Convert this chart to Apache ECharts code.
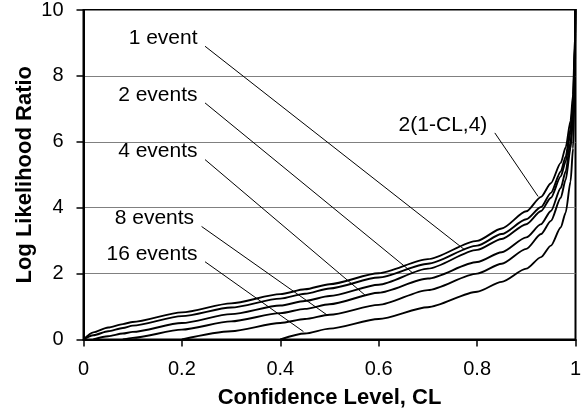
<!DOCTYPE html>
<html>
<head>
<meta charset="utf-8">
<script src="https://cdn.jsdelivr.net/npm/echarts@6/dist/echarts.min.js"></script>
<style>html,body{margin:0;padding:0;background:#fff}#c{width:586px;height:411px}</style>
</head>
<body>
<div id="c"></div>
<script>
// Confidence level grid (x)
const cl = [0, 0.02, 0.05, 0.08, 0.1, 0.2, 0.3, 0.4, 0.45, 0.5, 0.6, 0.7, 0.8, 0.85, 0.9, 0.93, 0.95, 0.97, 0.98, 0.99, 0.995, 0.999, 0.9995, 0.9999];
// Log likelihood ratio values per curve
const chi2Curve = [0, 0.215, 0.363, 0.468, 0.532, 0.824, 1.097, 1.376, 1.524, 1.678, 2.011, 2.439, 2.994, 3.37, 3.89, 4.33, 4.744, 5.36, 5.83, 6.64, 7.43, 9.23, 10.0, 11.8];
const ev1  = [0, 0.13, 0.25, 0.35, 0.42, 0.71, 0.97, 1.24, 1.39, 1.55, 1.88, 2.30, 2.85, 3.2, 3.65, 4.02, 4.45, 5.1, 5.55, 6.4, 7.2, 9.0, 9.85, 11.6];
const ev2  = [null, 0, 0.1, 0.18, 0.23, 0.5, 0.77, 1.03, 1.17, 1.32, 1.66, 2.15, 2.72, 3.05, 3.5, 3.9, 4.3, 4.95, 5.4, 6.3, 7.1, 8.9, 9.75, 11.5];
const ev4  = [null, null, null, 0, 0.05, 0.3, 0.55, 0.8, 0.93, 1.07, 1.42, 1.85, 2.35, 2.65, 3.1, 3.5, 3.9, 4.6, 5.1, 6.0, 6.9, 8.7, 9.65, 11.4];
const ev8  = [null, null, null, null, null, 0, 0.25, 0.5, 0.62, 0.75, 1.05, 1.5, 2.0, 2.3, 2.75, 3.2, 3.6, 4.3, 4.85, 5.8, 6.7, 8.6, 9.6, 11.3];
const ev16 = [null, null, null, null, null, null, null, 0, 0.18, 0.33, 0.62, 0.98, 1.45, 1.75, 2.15, 2.5, 2.85, 3.4, 3.85, 4.8, 5.8, 8.0, 9.3, 11.0];

// Annotation labels and their leader lines (data coordinates)
const leaderLabels = ['1 event', '2 events', '4 events', '8 events', '16 events', '2(1-CL,4)'];
const leaderFrom = [[0.247, 8.90], [0.247, 7.18], [0.247, 5.46], [0.240, 3.43], [0.247, 2.36], [0.836, 6.27]];
const leaderTo   = [[0.775, 2.72], [0.670, 2.01], [0.572, 1.35], [0.495, 0.745], [0.447, 0.24], [0.924, 4.34]];

const xTicks = [0, 0.2, 0.4, 0.6, 0.8, 1];
const yTicks = [0, 2, 4, 6, 8, 10];

const FONT = 'Liberation Sans';
const curves = [chi2Curve, ev1, ev2, ev4, ev8, ev16];
const series = curves.map(vals => ({
  type: 'line',
  data: cl.map((x, i) => [x, vals[i]]),
  showSymbol: false,
  smooth: 0.25,
  smoothMonotone: 'x',
  connectNulls: false,
  clip: true,
  lineStyle: { color: '#000', width: 1.9 },
  z: 3
}));

leaderLabels.forEach((name, i) => {
  series.push({
    type: 'line',
    data: [
      { value: leaderFrom[i], label: { show: true, formatter: name, position: 'left', distance: 7, offset: [0, -8],
        fontFamily: FONT, fontSize: 21, color: '#000' } },
      { value: leaderTo[i] }
    ],
    showSymbol: true,
    symbol: 'circle',
    symbolSize: 1,
    itemStyle: { color: 'rgba(0,0,0,0)' },
    lineStyle: { color: '#000', width: 1 },
    z: 4
  });
});

const chart = echarts.init(document.getElementById('c'), null, { renderer: 'canvas' });
chart.setOption({
  animation: false,
  backgroundColor: '#fff',
  grid: { left: 83.5, right: 10.5, top: 10, bottom: 71.5, containLabel: false, outerBoundsMode: 'none',
    show: true, borderColor: '#000', borderWidth: 2, backgroundColor: 'transparent' },
  xAxis: {
    type: 'value', min: xTicks[0], max: xTicks[xTicks.length - 1], interval: 0.2,
    name: 'Confidence Level, CL', nameLocation: 'middle', nameGap: 47, nameMoveOverlap: false,
    nameTextStyle: { fontFamily: FONT, fontWeight: 'bold', fontSize: 22, color: '#000' },
    axisLine: { lineStyle: { color: '#000', width: 2 } },
    axisTick: { show: true, length: 7, lineStyle: { color: '#000', width: 1.5 } },
    axisLabel: { margin: 20, fontFamily: FONT, fontSize: 20, color: '#000' },
    splitLine: { show: false }
  },
  yAxis: {
    type: 'value', min: yTicks[0], max: yTicks[yTicks.length - 1], interval: 2,
    name: 'Log Likelihood Ratio', nameLocation: 'middle', nameGap: 48, nameMoveOverlap: false,
    nameTextStyle: { fontFamily: FONT, fontWeight: 'bold', fontSize: 22, color: '#000' },
    axisLine: { show: true, lineStyle: { color: '#000', width: 2 } },
    axisTick: { show: true, length: 7, lineStyle: { color: '#000', width: 1.5 } },
    axisLabel: { margin: 20, fontFamily: FONT, fontSize: 20, color: '#000' },
    splitLine: { show: true, lineStyle: { color: '#808080', width: 1 } }
  },
  series: series
});
</script>
</body>
</html>
